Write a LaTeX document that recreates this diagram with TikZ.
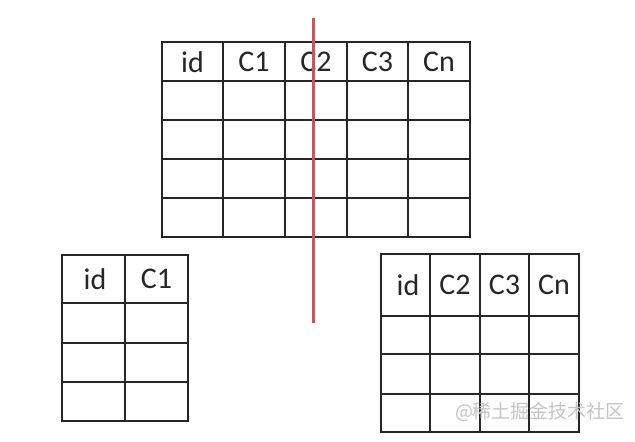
\documentclass[tikz,border=0pt]{standalone}
\usepackage{fontspec}
\setmainfont{Carlito}
\newfontfamily\cjk{Noto Sans CJK SC}
\definecolor{gridc}{HTML}{262626}
\definecolor{cutred}{HTML}{BC5A62}
\definecolor{wmark}{HTML}{C4C4C4}
\begin{document}
\begin{tikzpicture}[x=1pt,y=-1pt,
  gridline/.style={draw=gridc,line width=1.7pt},
  head/.style={font=\fontsize{30}{32}\selectfont,text=black!85,inner sep=0pt,anchor=center},
  cutline/.style={draw=cutred,line width=3pt},
  wm/.style={font=\cjk\fontsize{19}{21}\selectfont,text=wmark,inner sep=0pt}]
\useasboundingbox[fill=white] (0,0) rectangle (635,442);
% top table
\draw[gridline] (162,42) rectangle (470,237);
\foreach \x in {223,285,347,408} \draw[gridline] (\x,42) -- (\x,237);
\foreach \y in {81,120,159,198} \draw[gridline] (162,\y) -- (470,\y);
\node[head] (t1) at (192.5,62) {id};
\node[head] (t2) at (254,62) {C1};
\node[head] (t3) at (316,62) {C2};
\node[head] (t4) at (377.5,62) {C3};
\node[head] (t5) at (439,62) {Cn};
% left table
\draw[gridline] (62,255) rectangle (188,421);
\draw[gridline] (125,255) -- (125,421);
\foreach \y in {303,343,382} \draw[gridline] (62,\y) -- (188,\y);
\node[head] (l1) at (95,279) {id};
\node[head] (l2) at (156.5,279) {C1};
% right table
\draw[gridline] (381,254) rectangle (579,432);
\foreach \x in {430,480,529} \draw[gridline] (\x,254) -- (\x,432);
\foreach \y in {316,354,394} \draw[gridline] (381,\y) -- (579,\y);
\node[head] (r1) at (408,285) {id};
\node[head] (r2) at (455,285) {C2};
\node[head] (r3) at (504.5,285) {C3};
\node[head] (r4) at (554,285) {Cn};
% cut line
\coordinate (cuttop) at (313,18);
\coordinate (cutbot) at (313,323);
\draw[cutline] (cuttop) -- (cutbot);
% watermark
\node[wm] (wmk) at (540,412) {@稀土掘金技术社区};
\end{tikzpicture}
\end{document}
